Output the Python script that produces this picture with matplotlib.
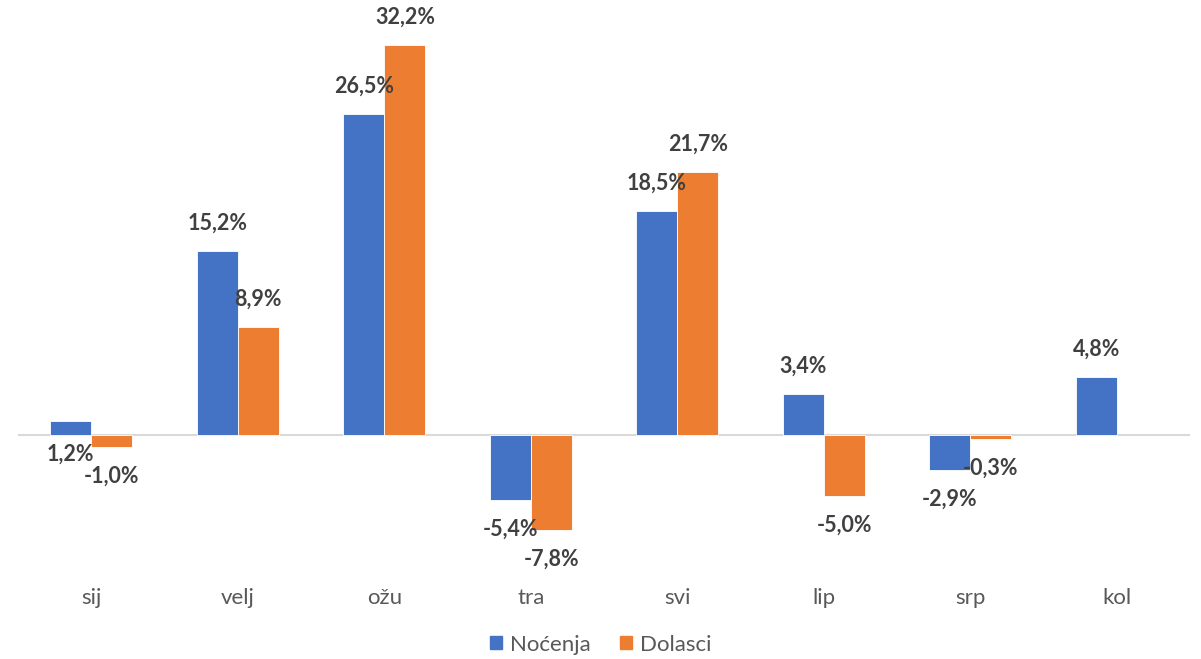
import numpy as np
import matplotlib.pyplot as plt
from matplotlib.patches import Patch

# data
months = ['sij', 'velj', 'ožu', 'tra', 'svi', 'lip', 'srp', 'kol']
nocenja = [1.2, 15.2, 26.5, -5.4, 18.5, 3.4, -2.9, 4.8]
dolasci = [-1.0, 8.9, 32.2, -7.8, 21.7, -5.0, -0.3, None]

blue = '#4472C4'
orange = '#ED7D31'
lbl_color = '#404040'
tick_color = '#595959'

plt.rcParams['font.family'] = ['Lato', 'DejaVu Sans']

fig = plt.figure(figsize=(12.01, 6.59), dpi=100)
ax = fig.add_axes([0.015, 0.156, 0.976, 0.827])

x = np.arange(len(months))
w = 0.28

def fmt(v):
    return ('%.1f%%' % v).replace('.', ',')

def draw(xs, vals, color, label_offsets=None):
    for xi, v in zip(xs, vals):
        if v is None:
            continue
        ax.bar(xi, v, width=w, color=color, edgecolor='white', linewidth=0.6)
        off = 20 if v >= 0 else -21
        if label_offsets and xi in label_offsets:
            off = label_offsets[xi]
        ax.annotate(fmt(v), (xi, v), xytext=(0, off), textcoords='offset points',
                    ha='center', va='center', fontsize=15.5, fontweight='bold',
                    color=lbl_color, annotation_clip=False)

# 1,2% label sits below the axis in the original
draw(x - w / 2, nocenja, blue, label_offsets={x[0] - w / 2: -24})
draw(x + w / 2, dolasci, orange)

ax.axhline(0, color='#D9D9D9', linewidth=1.5, zorder=0)
ax.set_xlim(-0.5, len(months) - 0.5)
ax.set_ylim(-10, 35)
ax.set_xticks(x)
ax.set_xticklabels(months, fontsize=16, color=tick_color)
ax.tick_params(axis='x', length=0, pad=23)
ax.set_yticks([])
for s in ax.spines.values():
    s.set_visible(False)

handles = [Patch(color=blue, label='Noćenja'), Patch(color=orange, label='Dolasci')]
leg = fig.legend(handles=handles, loc='center', bbox_to_anchor=(0.5, 0.022), ncol=2,
                 frameon=False, fontsize=16, handlelength=0.55, handleheight=0.55,
                 handletextpad=0.35, columnspacing=1.3)
for t in leg.get_texts():
    t.set_color(tick_color)

plt.savefig('out.png', dpi=100)
